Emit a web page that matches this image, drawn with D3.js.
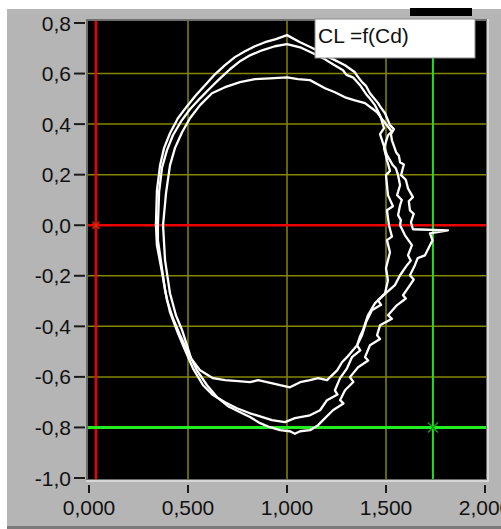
<!DOCTYPE html>
<html>
<head>
<meta charset="utf-8">
<style>
  body { margin: 0; background: #fff; }
  svg { display: block; }
  .tick-label { font-family: "Liberation Sans", Arial, sans-serif; font-size: 21px; fill: #111; }
  .legend-text { font-family: "Liberation Sans", Arial, sans-serif; font-size: 21px; fill: #111; }
</style>
</head>
<body>
<svg width="501" height="529"></svg>
<script src="https://d3js.org/d3.v7.min.js"></script>
<script>
// axis ticks
const cdTicks = [0, 0.5, 1, 1.5, 2];
const cdTickLabels = ["0,000", "0,500", "1,000", "1,500", "2,000"];
const clTicks = [0.8, 0.6, 0.4, 0.2, 0, -0.2, -0.4, -0.6, -0.8, -1.0];
const clTickLabels = ["0,8", "0,6", "0,4", "0,2", "0,0", "-0,2", "-0,4", "-0,6", "-0,8", "-1,0"];

// cursors [Cd, CL]
const redCursor = [0.035, 0];
const greenCursor = [1.737, -0.8];

// traces CL = f(Cd), pairs [Cd, CL]
const outerA = [
  [0.338, 0.000], [0.343, 0.138], [0.359, 0.237], [0.379, 0.305], [0.409, 0.364], [0.449, 0.423],
  [0.495, 0.471], [0.540, 0.514], [0.586, 0.554], [0.636, 0.597], [0.687, 0.633], [0.737, 0.665],
  [0.788, 0.688], [0.838, 0.708], [0.889, 0.724], [0.944, 0.736], [1.000, 0.752], [1.066, 0.724],
  [1.131, 0.700], [1.192, 0.672], [1.242, 0.653], [1.293, 0.633], [1.343, 0.605], [1.355, 0.590],
  [1.379, 0.566], [1.400, 0.550], [1.419, 0.522], [1.460, 0.483], [1.470, 0.470], [1.495, 0.443],
  [1.520, 0.396], [1.540, 0.380], [1.525, 0.360], [1.530, 0.336], [1.551, 0.289], [1.565, 0.275],
  [1.571, 0.249], [1.590, 0.240], [1.576, 0.198], [1.600, 0.180], [1.611, 0.146], [1.636, 0.111],
  [1.615, 0.095], [1.621, 0.059], [1.640, 0.045], [1.626, 0.012], [1.636, -0.016], [1.813, -0.020],
  [1.722, -0.032], [1.735, -0.060], [1.722, -0.079], [1.697, -0.119], [1.660, -0.130], [1.646, -0.158],
  [1.621, -0.198], [1.640, -0.215], [1.621, -0.237], [1.586, -0.277], [1.600, -0.290], [1.556, -0.316],
  [1.510, -0.356], [1.530, -0.370], [1.470, -0.396], [1.455, -0.435], [1.470, -0.450], [1.419, -0.475],
  [1.394, -0.522], [1.410, -0.535], [1.359, -0.562], [1.318, -0.601], [1.335, -0.620], [1.293, -0.653],
  [1.268, -0.692], [1.285, -0.705], [1.232, -0.732], [1.192, -0.763], [1.157, -0.791], [1.116, -0.811],
  [1.066, -0.815], [1.040, -0.825], [1.015, -0.815], [0.965, -0.811], [0.914, -0.799], [0.864, -0.783],
  [0.813, -0.759], [0.763, -0.740], [0.702, -0.716], [0.646, -0.680], [0.596, -0.633], [0.545, -0.574],
  [0.500, -0.502], [0.460, -0.435], [0.424, -0.368], [0.394, -0.297], [0.364, -0.166], [0.343, -0.079]
];
const outerB = [
  [0.348, 0.000], [0.354, 0.131], [0.369, 0.229], [0.394, 0.297], [0.424, 0.356], [0.465, 0.411],
  [0.510, 0.459], [0.561, 0.502], [0.611, 0.542], [0.662, 0.581], [0.712, 0.617], [0.763, 0.649],
  [0.813, 0.672], [0.874, 0.692], [0.939, 0.708], [1.000, 0.716], [1.066, 0.704], [1.131, 0.680],
  [1.182, 0.661], [1.232, 0.637], [1.283, 0.613], [1.300, 0.595], [1.333, 0.585], [1.369, 0.554],
  [1.404, 0.514], [1.420, 0.500], [1.444, 0.475], [1.470, 0.435], [1.490, 0.384], [1.470, 0.360],
  [1.485, 0.324], [1.505, 0.277], [1.535, 0.237], [1.550, 0.225], [1.561, 0.198], [1.571, 0.158],
  [1.556, 0.119], [1.580, 0.100], [1.571, 0.079], [1.561, 0.040], [1.575, 0.020], [1.571, 0.000],
  [1.596, -0.040], [1.631, -0.079], [1.611, -0.119], [1.625, -0.140], [1.606, -0.158], [1.571, -0.198],
  [1.545, -0.237], [1.505, -0.265], [1.460, -0.297], [1.475, -0.315], [1.429, -0.336], [1.399, -0.384],
  [1.379, -0.435], [1.354, -0.475], [1.370, -0.495], [1.328, -0.522], [1.303, -0.566], [1.268, -0.605],
  [1.242, -0.653], [1.255, -0.670], [1.202, -0.692], [1.167, -0.732], [1.116, -0.752], [1.040, -0.763],
  [0.990, -0.779], [0.924, -0.771], [0.864, -0.756], [0.813, -0.744], [0.747, -0.724], [0.687, -0.700],
  [0.626, -0.672], [0.576, -0.633], [0.525, -0.566], [0.485, -0.494], [0.449, -0.427], [0.409, -0.344],
  [0.384, -0.257], [0.364, -0.146], [0.348, -0.059]
];
const inner = [
  [0.470, -0.415], [0.495, -0.475], [0.515, -0.526], [0.561, -0.574], [0.626, -0.605], [0.687, -0.613],
  [0.753, -0.617], [0.813, -0.621], [0.854, -0.613], [0.899, -0.621], [0.965, -0.633], [1.015, -0.641],
  [1.066, -0.621], [1.116, -0.613], [1.157, -0.605], [1.202, -0.613], [1.253, -0.574], [1.278, -0.542],
  [1.303, -0.522], [1.354, -0.475], [1.369, -0.439], [1.384, -0.415], [1.409, -0.356], [1.444, -0.309],
  [1.495, -0.269], [1.510, -0.218], [1.500, -0.170], [1.520, -0.107], [1.505, -0.059], [1.530, -0.045],
  [1.515, 0.000], [1.505, 0.059], [1.535, 0.075], [1.510, 0.119], [1.500, 0.198], [1.520, 0.215],
  [1.505, 0.257], [1.490, 0.305], [1.510, 0.356], [1.530, 0.370], [1.485, 0.415], [1.455, 0.447],
  [1.394, 0.483], [1.343, 0.494], [1.293, 0.506], [1.242, 0.526], [1.192, 0.542], [1.116, 0.574],
  [1.056, 0.578], [1.000, 0.585], [0.914, 0.581], [0.838, 0.578], [0.763, 0.566], [0.687, 0.546],
  [0.621, 0.522], [0.561, 0.475], [0.510, 0.423], [0.470, 0.368], [0.434, 0.305], [0.409, 0.237],
  [0.389, 0.127], [0.374, 0.000], [0.384, -0.138], [0.409, -0.269], [0.439, -0.356]
];

const svg = d3.select("svg");

const x = d3.scaleLinear().domain([0, 2]).range([89, 485]);
const y = d3.scaleLinear().domain([-1, 0.8]).range([478, 23]);

// panel
svg.append("rect").attr("x", 7).attr("y", 9).attr("width", 494).attr("height", 520).attr("fill", "#b5b5b5");
svg.append("rect").attr("x", 7).attr("y", 526).attr("width", 494).attr("height", 3).attr("fill", "#7a7a7a");
svg.append("rect").attr("x", 410).attr("y", 8).attr("width", 62).attr("height", 8).attr("fill", "#000");

// plot frame (inset look)
svg.append("rect").attr("x", 86).attr("y", 19).attr("width", 403).attr("height", 463).attr("fill", "#d6d6d6");
svg.append("rect").attr("x", 86).attr("y", 19).attr("width", 401).attr("height", 461).attr("fill", "#6e6e6e");
svg.append("rect").attr("x", 88).attr("y", 21).attr("width", 398).attr("height", 458).attr("fill", "#000");

const plot = svg.append("g");

// grid
plot.selectAll(".gx").data(cdTicks.filter(d => d > 0 && d < 2)).join("line")
  .attr("x1", d => x(d)).attr("x2", d => x(d))
  .attr("y1", 21).attr("y2", 479)
  .attr("stroke", "#868600").attr("stroke-width", 1.5);
plot.selectAll(".gy").data(clTicks.filter(d => d < 0.8 && d > -1)).join("line")
  .attr("x1", 88).attr("x2", 486)
  .attr("y1", d => y(d)).attr("y2", d => y(d))
  .attr("stroke", "#868600").attr("stroke-width", 1.5);

// cursors
plot.append("line").attr("x1", x(redCursor[0])).attr("x2", x(redCursor[0])).attr("y1", 21).attr("y2", 479)
  .attr("stroke", "#ee0000").attr("stroke-width", 2.5);
plot.append("line").attr("x1", 88).attr("x2", 486).attr("y1", y(redCursor[1])).attr("y2", y(redCursor[1]))
  .attr("stroke", "#ee0000").attr("stroke-width", 2.5);
plot.append("line").attr("x1", x(greenCursor[0])).attr("x2", x(greenCursor[0])).attr("y1", 21).attr("y2", 479)
  .attr("stroke", "#22dd22").attr("stroke-width", 2);
plot.append("line").attr("x1", 88).attr("x2", 486).attr("y1", y(greenCursor[1])).attr("y2", y(greenCursor[1]))
  .attr("stroke", "#22ee22").attr("stroke-width", 3);

// traces
const line = d3.line().x(d => x(d[0])).y(d => y(d[1])).curve(d3.curveLinearClosed);
plot.selectAll(".trace").data([outerA, outerB, inner]).join("path")
  .attr("d", line)
  .attr("fill", "none")
  .attr("stroke", "#fff")
  .attr("stroke-width", 2.3)
  .attr("stroke-linejoin", "round");

// cursor markers
function marker(p, color, s) {
  const cx = x(p[0]), cy = y(p[1]);
  plot.append("path")
    .attr("d", `M${cx - s},${cy - s}L${cx + s},${cy + s}M${cx - s},${cy + s}L${cx + s},${cy - s}`)
    .attr("stroke", color).attr("stroke-width", 1.5).attr("fill", "none");
}
marker(redCursor, "#cc3300", 3.5);
marker(greenCursor, "#119911", 5);

// y axis
const yAxis = svg.append("g");
yAxis.selectAll("line").data(clTicks).join("line")
  .attr("x1", 74).attr("x2", 85)
  .attr("y1", d => y(d)).attr("y2", d => y(d))
  .attr("stroke", "#1a1a1a").attr("stroke-width", 2);
yAxis.selectAll("text").data(clTicks).join("text")
  .attr("class", "tick-label")
  .attr("x", 71).attr("y", d => y(d) + 7.5)
  .attr("text-anchor", "end")
  .text((d, i) => clTickLabels[i]);

// x axis
const xAxis = svg.append("g");
xAxis.selectAll("line").data(cdTicks).join("line")
  .attr("x1", d => x(d)).attr("x2", d => x(d))
  .attr("y1", 485).attr("y2", 493)
  .attr("stroke", "#1a1a1a").attr("stroke-width", 2);
xAxis.selectAll("text").data(cdTicks).join("text")
  .attr("class", "tick-label")
  .attr("x", d => x(d)).attr("y", 515)
  .attr("text-anchor", "middle")
  .text((d, i) => cdTickLabels[i]);

// legend
svg.append("rect").attr("x", 315).attr("y", 19).attr("width", 160).attr("height", 39)
  .attr("fill", "#fff").attr("stroke", "#8a8a8a").attr("stroke-width", 1);
svg.append("text").attr("class", "legend-text").attr("x", 318).attr("y", 43).text("CL =f(Cd)");
</script>
</body>
</html>
